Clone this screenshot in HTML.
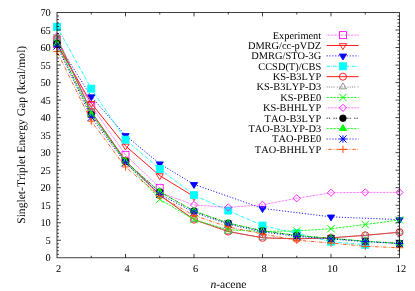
<!DOCTYPE html>
<html><head><meta charset="utf-8"><title>Singlet-Triplet Energy Gap</title>
<style>
html,body{margin:0;padding:0;background:#fff;}
body{width:415px;height:291px;overflow:hidden;position:relative;font-family:"Liberation Serif",serif;}
</style></head><body>
<svg width="415" height="291" viewBox="0 0 415 291" style="position:absolute;left:0;top:0;will-change:transform;transform:translateZ(0)">
<rect width="415" height="291" fill="#fff"/>
<g>
<path d="M326.60 35.10L358.60 35.10" fill="none" stroke="#ff00ff" stroke-width="0.9" stroke-dasharray="0.57,0.86"/>
<polyline points="57.00,43.94 91.25,105.76 125.50,154.83 159.75,187.84" fill="none" stroke="#ff00ff" stroke-width="0.9" stroke-dasharray="0.57,0.86" stroke-linejoin="round"/>
<rect x="339.45" y="31.60" width="7.00" height="7.00" fill="none" stroke="#ff00ff" stroke-width="0.85"/>
<rect x="53.50" y="40.44" width="7.00" height="7.00" fill="none" stroke="#ff00ff" stroke-width="0.85"/>
<rect x="87.75" y="102.26" width="7.00" height="7.00" fill="none" stroke="#ff00ff" stroke-width="0.85"/>
<rect x="122.00" y="151.33" width="7.00" height="7.00" fill="none" stroke="#ff00ff" stroke-width="0.85"/>
<rect x="156.25" y="184.34" width="7.00" height="7.00" fill="none" stroke="#ff00ff" stroke-width="0.85"/>
</g>
<g>
<path d="M326.60 45.49L358.60 45.49" fill="none" stroke="#ff0000" stroke-width="0.9"/>
<polyline points="57.00,43.94 91.25,103.31 125.50,145.93 159.75,175.62 194.00,196.57" fill="none" stroke="#ff0000" stroke-width="0.9" stroke-linejoin="round"/>
<polygon points="342.95,49.58 339.30,43.66 346.60,43.66" fill="none" stroke="#ff0000" stroke-width="0.85"/>
<polygon points="57.00,48.02 53.35,42.11 60.65,42.11" fill="none" stroke="#ff0000" stroke-width="0.85"/>
<polygon points="91.25,107.40 87.60,101.49 94.90,101.49" fill="none" stroke="#ff0000" stroke-width="0.85"/>
<polygon points="125.50,150.02 121.85,144.10 129.15,144.10" fill="none" stroke="#ff0000" stroke-width="0.85"/>
<polygon points="159.75,179.70 156.10,173.79 163.40,173.79" fill="none" stroke="#ff0000" stroke-width="0.85"/>
<polygon points="194.00,200.66 190.35,194.75 197.65,194.75" fill="none" stroke="#ff0000" stroke-width="0.85"/>
</g>
<g>
<path d="M326.60 55.88L358.60 55.88" fill="none" stroke="#0000ff" stroke-width="0.9" stroke-dasharray="1.15,1.72"/>
<polyline points="57.00,42.19 91.25,96.68 125.50,135.45 159.75,163.74 194.00,184.35 262.50,208.45 331.00,216.83 399.50,219.63" fill="none" stroke="#0000ff" stroke-width="0.9" stroke-dasharray="1.15,1.72" stroke-linejoin="round"/>
<polygon points="342.95,59.97 339.30,54.05 346.60,54.05" fill="#0000ff" stroke="#0000ff" stroke-width="0.85"/>
<polygon points="57.00,46.28 53.35,40.36 60.65,40.36" fill="#0000ff" stroke="#0000ff" stroke-width="0.85"/>
<polygon points="91.25,100.77 87.60,94.85 94.90,94.85" fill="#0000ff" stroke="#0000ff" stroke-width="0.85"/>
<polygon points="125.50,139.54 121.85,133.62 129.15,133.62" fill="#0000ff" stroke="#0000ff" stroke-width="0.85"/>
<polygon points="159.75,167.83 156.10,161.92 163.40,161.92" fill="#0000ff" stroke="#0000ff" stroke-width="0.85"/>
<polygon points="194.00,188.44 190.35,182.52 197.65,182.52" fill="#0000ff" stroke="#0000ff" stroke-width="0.85"/>
<polygon points="262.50,212.54 258.85,206.62 266.15,206.62" fill="#0000ff" stroke="#0000ff" stroke-width="0.85"/>
<polygon points="331.00,220.92 327.35,215.01 334.65,215.01" fill="#0000ff" stroke="#0000ff" stroke-width="0.85"/>
<polygon points="399.50,223.71 395.85,217.80 403.15,217.80" fill="#0000ff" stroke="#0000ff" stroke-width="0.85"/>
</g>
<g>
<path d="M326.60 66.27L358.60 66.27" fill="none" stroke="#00ffff" stroke-width="0.9" stroke-dasharray="3.45,1.15,0.57,1.15"/>
<polyline points="57.00,26.82 91.25,88.64 125.50,139.64 159.75,168.98 194.00,195.18 228.25,210.54 262.50,225.56 296.75,233.25 331.00,241.63 365.25,244.78" fill="none" stroke="#00ffff" stroke-width="0.9" stroke-dasharray="3.45,1.15,0.57,1.15" stroke-linejoin="round"/>
<rect x="339.45" y="62.77" width="7.00" height="7.00" fill="#00ffff" stroke="#00ffff" stroke-width="0.85"/>
<rect x="53.50" y="23.32" width="7.00" height="7.00" fill="#00ffff" stroke="#00ffff" stroke-width="0.85"/>
<rect x="87.75" y="85.14" width="7.00" height="7.00" fill="#00ffff" stroke="#00ffff" stroke-width="0.85"/>
<rect x="122.00" y="136.14" width="7.00" height="7.00" fill="#00ffff" stroke="#00ffff" stroke-width="0.85"/>
<rect x="156.25" y="165.48" width="7.00" height="7.00" fill="#00ffff" stroke="#00ffff" stroke-width="0.85"/>
<rect x="190.50" y="191.68" width="7.00" height="7.00" fill="#00ffff" stroke="#00ffff" stroke-width="0.85"/>
<rect x="224.75" y="207.04" width="7.00" height="7.00" fill="#00ffff" stroke="#00ffff" stroke-width="0.85"/>
<rect x="259.00" y="222.06" width="7.00" height="7.00" fill="#00ffff" stroke="#00ffff" stroke-width="0.85"/>
<rect x="293.25" y="229.75" width="7.00" height="7.00" fill="#00ffff" stroke="#00ffff" stroke-width="0.85"/>
<rect x="327.50" y="238.13" width="7.00" height="7.00" fill="#00ffff" stroke="#00ffff" stroke-width="0.85"/>
<rect x="361.75" y="241.28" width="7.00" height="7.00" fill="#00ffff" stroke="#00ffff" stroke-width="0.85"/>
</g>
<g>
<path d="M326.60 76.66L358.60 76.66" fill="none" stroke="#ff0000" stroke-width="0.9"/>
<polyline points="57.00,38.52 91.25,111.70 125.50,160.60 159.75,195.18 194.00,219.63 228.25,231.50 262.50,237.79 296.75,238.84 331.00,237.79 365.25,235.34 399.50,232.20" fill="none" stroke="#ff0000" stroke-width="0.9" stroke-linejoin="round"/>
<circle cx="342.95" cy="76.66" r="3.55" fill="none" stroke="#ff0000" stroke-width="0.85"/>
<circle cx="57.00" cy="38.52" r="3.55" fill="none" stroke="#ff0000" stroke-width="0.85"/>
<circle cx="91.25" cy="111.70" r="3.55" fill="none" stroke="#ff0000" stroke-width="0.85"/>
<circle cx="125.50" cy="160.60" r="3.55" fill="none" stroke="#ff0000" stroke-width="0.85"/>
<circle cx="159.75" cy="195.18" r="3.55" fill="none" stroke="#ff0000" stroke-width="0.85"/>
<circle cx="194.00" cy="219.63" r="3.55" fill="none" stroke="#ff0000" stroke-width="0.85"/>
<circle cx="228.25" cy="231.50" r="3.55" fill="none" stroke="#ff0000" stroke-width="0.85"/>
<circle cx="262.50" cy="237.79" r="3.55" fill="none" stroke="#ff0000" stroke-width="0.85"/>
<circle cx="296.75" cy="238.84" r="3.55" fill="none" stroke="#ff0000" stroke-width="0.85"/>
<circle cx="331.00" cy="237.79" r="3.55" fill="none" stroke="#ff0000" stroke-width="0.85"/>
<circle cx="365.25" cy="235.34" r="3.55" fill="none" stroke="#ff0000" stroke-width="0.85"/>
<circle cx="399.50" cy="232.20" r="3.55" fill="none" stroke="#ff0000" stroke-width="0.85"/>
</g>
<g>
<path d="M326.60 87.05L358.60 87.05" fill="none" stroke="#808080" stroke-width="0.9" stroke-dasharray="1.15,1.15,1.15,1.15,1.15,1.15,1.15,2.30"/>
<polyline points="57.00,38.52 91.25,111.70 125.50,160.60 159.75,195.18 194.00,219.63 228.25,231.50 262.50,237.79 296.75,238.84 331.00,237.79 365.25,235.34 399.50,232.20" fill="none" stroke="#808080" stroke-width="0.9" stroke-dasharray="1.15,1.15,1.15,1.15,1.15,1.15,1.15,2.30" stroke-linejoin="round"/>
<polygon points="342.95,82.96 339.30,88.88 346.60,88.88" fill="none" stroke="#808080" stroke-width="0.85"/>
<polygon points="57.00,34.43 53.35,40.35 60.65,40.35" fill="none" stroke="#808080" stroke-width="0.85"/>
<polygon points="91.25,107.61 87.60,113.52 94.90,113.52" fill="none" stroke="#808080" stroke-width="0.85"/>
<polygon points="125.50,156.51 121.85,162.42 129.15,162.42" fill="none" stroke="#808080" stroke-width="0.85"/>
<polygon points="159.75,191.09 156.10,197.00 163.40,197.00" fill="none" stroke="#808080" stroke-width="0.85"/>
<polygon points="194.00,215.54 190.35,221.45 197.65,221.45" fill="none" stroke="#808080" stroke-width="0.85"/>
<polygon points="228.25,227.41 224.60,233.33 231.90,233.33" fill="none" stroke="#808080" stroke-width="0.85"/>
<polygon points="262.50,233.70 258.85,239.61 266.15,239.61" fill="none" stroke="#808080" stroke-width="0.85"/>
<polygon points="296.75,234.75 293.10,240.66 300.40,240.66" fill="none" stroke="#808080" stroke-width="0.85"/>
<polygon points="331.00,233.70 327.35,239.61 334.65,239.61" fill="none" stroke="#808080" stroke-width="0.85"/>
<polygon points="365.25,231.26 361.60,237.17 368.90,237.17" fill="none" stroke="#808080" stroke-width="0.85"/>
<polygon points="399.50,228.11 395.85,234.03 403.15,234.03" fill="none" stroke="#808080" stroke-width="0.85"/>
</g>
<g>
<path d="M326.60 97.44L358.60 97.44" fill="none" stroke="#00ff00" stroke-width="0.9" stroke-dasharray="2.30,1.15"/>
<polyline points="57.00,37.65 91.25,112.05 125.50,161.99 159.75,199.19 194.00,219.63 228.25,229.76 262.50,231.50 296.75,230.91 331.00,228.71 365.25,224.52 399.50,219.98" fill="none" stroke="#00ff00" stroke-width="0.9" stroke-dasharray="2.30,1.15" stroke-linejoin="round"/>
<path d="M339.30 93.79L346.60 101.09M339.30 101.09L346.60 93.79" fill="none" stroke="#00ff00" stroke-width="1.0"/>
<path d="M53.35 34.00L60.65 41.30M53.35 41.30L60.65 34.00" fill="none" stroke="#00ff00" stroke-width="1.0"/>
<path d="M87.60 108.40L94.90 115.70M87.60 115.70L94.90 108.40" fill="none" stroke="#00ff00" stroke-width="1.0"/>
<path d="M121.85 158.34L129.15 165.64M121.85 165.64L129.15 158.34" fill="none" stroke="#00ff00" stroke-width="1.0"/>
<path d="M156.10 195.54L163.40 202.84M156.10 202.84L163.40 195.54" fill="none" stroke="#00ff00" stroke-width="1.0"/>
<path d="M190.35 215.98L197.65 223.28M190.35 223.28L197.65 215.98" fill="none" stroke="#00ff00" stroke-width="1.0"/>
<path d="M224.60 226.11L231.90 233.41M224.60 233.41L231.90 226.11" fill="none" stroke="#00ff00" stroke-width="1.0"/>
<path d="M258.85 227.85L266.15 235.15M258.85 235.15L266.15 227.85" fill="none" stroke="#00ff00" stroke-width="1.0"/>
<path d="M293.10 227.26L300.40 234.56M293.10 234.56L300.40 227.26" fill="none" stroke="#00ff00" stroke-width="1.0"/>
<path d="M327.35 225.06L334.65 232.36M327.35 232.36L334.65 225.06" fill="none" stroke="#00ff00" stroke-width="1.0"/>
<path d="M361.60 220.87L368.90 228.17M361.60 228.17L368.90 220.87" fill="none" stroke="#00ff00" stroke-width="1.0"/>
<path d="M395.85 216.33L403.15 223.63M395.85 223.63L403.15 216.33" fill="none" stroke="#00ff00" stroke-width="1.0"/>
</g>
<g>
<path d="M326.60 107.83L358.60 107.83" fill="none" stroke="#ff00ff" stroke-width="0.9" stroke-dasharray="0.57,0.86"/>
<polyline points="57.00,36.25 91.25,112.75 125.50,161.30 159.75,192.38 194.00,204.96 228.25,207.40 262.50,204.78 296.75,198.32 331.00,192.73 365.25,192.38 399.50,192.38" fill="none" stroke="#ff00ff" stroke-width="0.9" stroke-dasharray="0.57,0.86" stroke-linejoin="round"/>
<polygon points="342.95,104.23 339.35,107.83 342.95,111.43 346.55,107.83" fill="none" stroke="#ff00ff" stroke-width="0.85"/>
<polygon points="57.00,32.65 53.40,36.25 57.00,39.85 60.60,36.25" fill="none" stroke="#ff00ff" stroke-width="0.85"/>
<polygon points="91.25,109.15 87.65,112.75 91.25,116.35 94.85,112.75" fill="none" stroke="#ff00ff" stroke-width="0.85"/>
<polygon points="125.50,157.70 121.90,161.30 125.50,164.90 129.10,161.30" fill="none" stroke="#ff00ff" stroke-width="0.85"/>
<polygon points="159.75,188.78 156.15,192.38 159.75,195.98 163.35,192.38" fill="none" stroke="#ff00ff" stroke-width="0.85"/>
<polygon points="194.00,201.36 190.40,204.96 194.00,208.56 197.60,204.96" fill="none" stroke="#ff00ff" stroke-width="0.85"/>
<polygon points="228.25,203.80 224.65,207.40 228.25,211.00 231.85,207.40" fill="none" stroke="#ff00ff" stroke-width="0.85"/>
<polygon points="262.50,201.18 258.90,204.78 262.50,208.38 266.10,204.78" fill="none" stroke="#ff00ff" stroke-width="0.85"/>
<polygon points="296.75,194.72 293.15,198.32 296.75,201.92 300.35,198.32" fill="none" stroke="#ff00ff" stroke-width="0.85"/>
<polygon points="331.00,189.13 327.40,192.73 331.00,196.33 334.60,192.73" fill="none" stroke="#ff00ff" stroke-width="0.85"/>
<polygon points="365.25,188.78 361.65,192.38 365.25,195.98 368.85,192.38" fill="none" stroke="#ff00ff" stroke-width="0.85"/>
<polygon points="399.50,188.78 395.90,192.38 399.50,195.98 403.10,192.38" fill="none" stroke="#ff00ff" stroke-width="0.85"/>
</g>
<g>
<path d="M326.60 118.22L358.60 118.22" fill="none" stroke="#000000" stroke-width="0.9" stroke-dasharray="1.15,1.15,1.15,3.45"/>
<polyline points="57.00,43.94 91.25,114.49 125.50,161.47 159.75,191.86 194.00,211.07 228.25,223.12 262.50,230.80 296.75,235.52 331.00,238.31 365.25,241.28 399.50,243.38" fill="none" stroke="#000000" stroke-width="0.9" stroke-dasharray="1.15,1.15,1.15,3.45" stroke-linejoin="round"/>
<circle cx="342.95" cy="118.22" r="3.30" fill="#000000" stroke="#000000" stroke-width="0.85"/>
<circle cx="57.00" cy="43.94" r="3.30" fill="#000000" stroke="#000000" stroke-width="0.85"/>
<circle cx="91.25" cy="114.49" r="3.30" fill="#000000" stroke="#000000" stroke-width="0.85"/>
<circle cx="125.50" cy="161.47" r="3.30" fill="#000000" stroke="#000000" stroke-width="0.85"/>
<circle cx="159.75" cy="191.86" r="3.30" fill="#000000" stroke="#000000" stroke-width="0.85"/>
<circle cx="194.00" cy="211.07" r="3.30" fill="#000000" stroke="#000000" stroke-width="0.85"/>
<circle cx="228.25" cy="223.12" r="3.30" fill="#000000" stroke="#000000" stroke-width="0.85"/>
<circle cx="262.50" cy="230.80" r="3.30" fill="#000000" stroke="#000000" stroke-width="0.85"/>
<circle cx="296.75" cy="235.52" r="3.30" fill="#000000" stroke="#000000" stroke-width="0.85"/>
<circle cx="331.00" cy="238.31" r="3.30" fill="#000000" stroke="#000000" stroke-width="0.85"/>
<circle cx="365.25" cy="241.28" r="3.30" fill="#000000" stroke="#000000" stroke-width="0.85"/>
<circle cx="399.50" cy="243.38" r="3.30" fill="#000000" stroke="#000000" stroke-width="0.85"/>
</g>
<g>
<path d="M326.60 128.61L358.60 128.61" fill="none" stroke="#00ff00" stroke-width="0.9" stroke-dasharray="2.30,1.15"/>
<polyline points="57.00,43.94 91.25,114.49 125.50,161.47 159.75,191.86 194.00,211.07 228.25,223.12 262.50,230.80 296.75,235.52 331.00,238.31 365.25,241.28 399.50,243.38" fill="none" stroke="#00ff00" stroke-width="0.9" stroke-dasharray="2.30,1.15" stroke-linejoin="round"/>
<polygon points="342.95,124.52 339.30,130.44 346.60,130.44" fill="#00ff00" stroke="#00ff00" stroke-width="0.85"/>
<polygon points="57.00,39.85 53.35,45.76 60.65,45.76" fill="#00ff00" stroke="#00ff00" stroke-width="0.85"/>
<polygon points="91.25,110.40 87.60,116.32 94.90,116.32" fill="#00ff00" stroke="#00ff00" stroke-width="0.85"/>
<polygon points="125.50,157.38 121.85,163.30 129.15,163.30" fill="#00ff00" stroke="#00ff00" stroke-width="0.85"/>
<polygon points="159.75,187.77 156.10,193.68 163.40,193.68" fill="#00ff00" stroke="#00ff00" stroke-width="0.85"/>
<polygon points="194.00,206.98 190.35,212.89 197.65,212.89" fill="#00ff00" stroke="#00ff00" stroke-width="0.85"/>
<polygon points="228.25,219.03 224.60,224.94 231.90,224.94" fill="#00ff00" stroke="#00ff00" stroke-width="0.85"/>
<polygon points="262.50,226.72 258.85,232.63 266.15,232.63" fill="#00ff00" stroke="#00ff00" stroke-width="0.85"/>
<polygon points="296.75,231.43 293.10,237.34 300.40,237.34" fill="#00ff00" stroke="#00ff00" stroke-width="0.85"/>
<polygon points="331.00,234.23 327.35,240.14 334.65,240.14" fill="#00ff00" stroke="#00ff00" stroke-width="0.85"/>
<polygon points="365.25,237.19 361.60,243.11 368.90,243.11" fill="#00ff00" stroke="#00ff00" stroke-width="0.85"/>
<polygon points="399.50,239.29 395.85,245.20 403.15,245.20" fill="#00ff00" stroke="#00ff00" stroke-width="0.85"/>
</g>
<g>
<path d="M326.60 139.00L358.60 139.00" fill="none" stroke="#0000ff" stroke-width="0.9" stroke-dasharray="1.15,1.72"/>
<polyline points="57.00,46.03 91.25,117.29 125.50,162.87 159.75,194.30 194.00,212.29 228.25,224.17 262.50,231.85 296.75,236.39 331.00,239.01 365.25,241.63 399.50,243.55" fill="none" stroke="#0000ff" stroke-width="0.9" stroke-dasharray="1.15,1.72" stroke-linejoin="round"/>
<path d="M339.30 135.35L346.60 142.65M339.30 142.65L346.60 135.35M339.30 139.00L346.60 139.00M342.95 135.35L342.95 142.65" fill="none" stroke="#0000ff" stroke-width="1.0"/>
<path d="M53.35 42.38L60.65 49.68M53.35 49.68L60.65 42.38M53.35 46.03L60.65 46.03M57.00 42.38L57.00 49.68" fill="none" stroke="#0000ff" stroke-width="1.0"/>
<path d="M87.60 113.64L94.90 120.94M87.60 120.94L94.90 113.64M87.60 117.29L94.90 117.29M91.25 113.64L91.25 120.94" fill="none" stroke="#0000ff" stroke-width="1.0"/>
<path d="M121.85 159.22L129.15 166.52M121.85 166.52L129.15 159.22M121.85 162.87L129.15 162.87M125.50 159.22L125.50 166.52" fill="none" stroke="#0000ff" stroke-width="1.0"/>
<path d="M156.10 190.65L163.40 197.95M156.10 197.95L163.40 190.65M156.10 194.30L163.40 194.30M159.75 190.65L159.75 197.95" fill="none" stroke="#0000ff" stroke-width="1.0"/>
<path d="M190.35 208.64L197.65 215.94M190.35 215.94L197.65 208.64M190.35 212.29L197.65 212.29M194.00 208.64L194.00 215.94" fill="none" stroke="#0000ff" stroke-width="1.0"/>
<path d="M224.60 220.52L231.90 227.82M224.60 227.82L231.90 220.52M224.60 224.17L231.90 224.17M228.25 220.52L228.25 227.82" fill="none" stroke="#0000ff" stroke-width="1.0"/>
<path d="M258.85 228.20L266.15 235.50M258.85 235.50L266.15 228.20M258.85 231.85L266.15 231.85M262.50 228.20L262.50 235.50" fill="none" stroke="#0000ff" stroke-width="1.0"/>
<path d="M293.10 232.74L300.40 240.04M293.10 240.04L300.40 232.74M293.10 236.39L300.40 236.39M296.75 232.74L296.75 240.04" fill="none" stroke="#0000ff" stroke-width="1.0"/>
<path d="M327.35 235.36L334.65 242.66M327.35 242.66L334.65 235.36M327.35 239.01L334.65 239.01M331.00 235.36L331.00 242.66" fill="none" stroke="#0000ff" stroke-width="1.0"/>
<path d="M361.60 237.98L368.90 245.28M361.60 245.28L368.90 237.98M361.60 241.63L368.90 241.63M365.25 237.98L365.25 245.28" fill="none" stroke="#0000ff" stroke-width="1.0"/>
<path d="M395.85 239.90L403.15 247.20M395.85 247.20L403.15 239.90M395.85 243.55L403.15 243.55M399.50 239.90L399.50 247.20" fill="none" stroke="#0000ff" stroke-width="1.0"/>
</g>
<g>
<path d="M326.60 149.39L358.60 149.39" fill="none" stroke="#ff4d00" stroke-width="0.9" stroke-dasharray="0.57,1.15,3.45,1.15,0.57,1.15"/>
<polyline points="57.00,51.45 91.25,121.13 125.50,166.88 159.75,196.22 194.00,215.44 228.25,226.96 262.50,233.95 296.75,240.23 331.00,243.03 365.25,246.35 399.50,247.74" fill="none" stroke="#ff4d00" stroke-width="0.9" stroke-dasharray="0.57,1.15,3.45,1.15,0.57,1.15" stroke-linejoin="round"/>
<path d="M339.30 149.39L346.60 149.39M342.95 145.74L342.95 153.04" fill="none" stroke="#ff4d00" stroke-width="1.0"/>
<path d="M53.35 51.45L60.65 51.45M57.00 47.80L57.00 55.10" fill="none" stroke="#ff4d00" stroke-width="1.0"/>
<path d="M87.60 121.13L94.90 121.13M91.25 117.48L91.25 124.78" fill="none" stroke="#ff4d00" stroke-width="1.0"/>
<path d="M121.85 166.88L129.15 166.88M125.50 163.23L125.50 170.53" fill="none" stroke="#ff4d00" stroke-width="1.0"/>
<path d="M156.10 196.22L163.40 196.22M159.75 192.57L159.75 199.87" fill="none" stroke="#ff4d00" stroke-width="1.0"/>
<path d="M190.35 215.44L197.65 215.44M194.00 211.78L194.00 219.09" fill="none" stroke="#ff4d00" stroke-width="1.0"/>
<path d="M224.60 226.96L231.90 226.96M228.25 223.31L228.25 230.61" fill="none" stroke="#ff4d00" stroke-width="1.0"/>
<path d="M258.85 233.95L266.15 233.95M262.50 230.30L262.50 237.60" fill="none" stroke="#ff4d00" stroke-width="1.0"/>
<path d="M293.10 240.23L300.40 240.23M296.75 236.58L296.75 243.88" fill="none" stroke="#ff4d00" stroke-width="1.0"/>
<path d="M327.35 243.03L334.65 243.03M331.00 239.38L331.00 246.68" fill="none" stroke="#ff4d00" stroke-width="1.0"/>
<path d="M361.60 246.35L368.90 246.35M365.25 242.70L365.25 250.00" fill="none" stroke="#ff4d00" stroke-width="1.0"/>
<path d="M395.85 247.74L403.15 247.74M399.50 244.09L399.50 251.39" fill="none" stroke="#ff4d00" stroke-width="1.0"/>
</g>
<path d="M57.00 254.30h2.00M399.50 254.30h-2.00M57.00 250.79h2.00M399.50 250.79h-2.00M57.00 247.29h2.00M399.50 247.29h-2.00M57.00 243.78h2.00M399.50 243.78h-2.00M57.00 240.28h3.90M399.50 240.28h-3.90M57.00 236.77h2.00M399.50 236.77h-2.00M57.00 233.27h2.00M399.50 233.27h-2.00M57.00 229.77h2.00M399.50 229.77h-2.00M57.00 226.26h2.00M399.50 226.26h-2.00M57.00 222.76h3.90M399.50 222.76h-3.90M57.00 219.25h2.00M399.50 219.25h-2.00M57.00 215.75h2.00M399.50 215.75h-2.00M57.00 212.24h2.00M399.50 212.24h-2.00M57.00 208.74h2.00M399.50 208.74h-2.00M57.00 205.24h3.90M399.50 205.24h-3.90M57.00 201.73h2.00M399.50 201.73h-2.00M57.00 198.23h2.00M399.50 198.23h-2.00M57.00 194.72h2.00M399.50 194.72h-2.00M57.00 191.22h2.00M399.50 191.22h-2.00M57.00 187.71h3.90M399.50 187.71h-3.90M57.00 184.21h2.00M399.50 184.21h-2.00M57.00 180.71h2.00M399.50 180.71h-2.00M57.00 177.20h2.00M399.50 177.20h-2.00M57.00 173.70h2.00M399.50 173.70h-2.00M57.00 170.19h3.90M399.50 170.19h-3.90M57.00 166.69h2.00M399.50 166.69h-2.00M57.00 163.18h2.00M399.50 163.18h-2.00M57.00 159.68h2.00M399.50 159.68h-2.00M57.00 156.18h2.00M399.50 156.18h-2.00M57.00 152.67h3.90M399.50 152.67h-3.90M57.00 149.17h2.00M399.50 149.17h-2.00M57.00 145.66h2.00M399.50 145.66h-2.00M57.00 142.16h2.00M399.50 142.16h-2.00M57.00 138.65h2.00M399.50 138.65h-2.00M57.00 135.15h3.90M399.50 135.15h-3.90M57.00 131.65h2.00M399.50 131.65h-2.00M57.00 128.14h2.00M399.50 128.14h-2.00M57.00 124.64h2.00M399.50 124.64h-2.00M57.00 121.13h2.00M399.50 121.13h-2.00M57.00 117.63h3.90M399.50 117.63h-3.90M57.00 114.12h2.00M399.50 114.12h-2.00M57.00 110.62h2.00M399.50 110.62h-2.00M57.00 107.12h2.00M399.50 107.12h-2.00M57.00 103.61h2.00M399.50 103.61h-2.00M57.00 100.11h3.90M399.50 100.11h-3.90M57.00 96.60h2.00M399.50 96.60h-2.00M57.00 93.10h2.00M399.50 93.10h-2.00M57.00 89.59h2.00M399.50 89.59h-2.00M57.00 86.09h2.00M399.50 86.09h-2.00M57.00 82.59h3.90M399.50 82.59h-3.90M57.00 79.08h2.00M399.50 79.08h-2.00M57.00 75.58h2.00M399.50 75.58h-2.00M57.00 72.07h2.00M399.50 72.07h-2.00M57.00 68.57h2.00M399.50 68.57h-2.00M57.00 65.06h3.90M399.50 65.06h-3.90M57.00 61.56h2.00M399.50 61.56h-2.00M57.00 58.06h2.00M399.50 58.06h-2.00M57.00 54.55h2.00M399.50 54.55h-2.00M57.00 51.05h2.00M399.50 51.05h-2.00M57.00 47.54h3.90M399.50 47.54h-3.90M57.00 44.04h2.00M399.50 44.04h-2.00M57.00 40.53h2.00M399.50 40.53h-2.00M57.00 37.03h2.00M399.50 37.03h-2.00M57.00 33.53h2.00M399.50 33.53h-2.00M57.00 30.02h3.90M399.50 30.02h-3.90M57.00 26.52h2.00M399.50 26.52h-2.00M57.00 23.01h2.00M399.50 23.01h-2.00M57.00 19.51h2.00M399.50 19.51h-2.00M57.00 16.00h2.00M399.50 16.00h-2.00M91.25 257.80v-2.00M91.25 12.50v2.00M125.50 257.80v-3.90M125.50 12.50v3.90M159.75 257.80v-2.00M159.75 12.50v2.00M194.00 257.80v-3.90M194.00 12.50v3.90M228.25 257.80v-2.00M228.25 12.50v2.00M262.50 257.80v-3.90M262.50 12.50v3.90M296.75 257.80v-2.00M296.75 12.50v2.00M331.00 257.80v-3.90M331.00 12.50v3.90M365.25 257.80v-2.00M365.25 12.50v2.00" fill="none" stroke="#000" stroke-width="0.75"/>
<rect x="57.00" y="12.50" width="342.50" height="245.30" fill="none" stroke="#000" stroke-width="0.75"/>
<g font-family="'Liberation Serif', serif" fill="#000" style="font-kerning:none;text-rendering:geometricPrecision">
<g font-size="10.4px">
<text x="50.8" y="261.45" text-anchor="end">0</text>
<text x="50.8" y="243.93" text-anchor="end">5</text>
<text x="50.8" y="226.41" text-anchor="end">10</text>
<text x="50.8" y="208.89" text-anchor="end">15</text>
<text x="50.8" y="191.36" text-anchor="end">20</text>
<text x="50.8" y="173.84" text-anchor="end">25</text>
<text x="50.8" y="156.32" text-anchor="end">30</text>
<text x="50.8" y="138.80" text-anchor="end">35</text>
<text x="50.8" y="121.28" text-anchor="end">40</text>
<text x="50.8" y="103.76" text-anchor="end">45</text>
<text x="50.8" y="86.24" text-anchor="end">50</text>
<text x="50.8" y="68.71" text-anchor="end">55</text>
<text x="50.8" y="51.19" text-anchor="end">60</text>
<text x="50.8" y="33.67" text-anchor="end">65</text>
<text x="50.8" y="16.15" text-anchor="end">70</text>
<text x="58.50" y="271.6" text-anchor="middle">2</text>
<text x="127.00" y="271.6" text-anchor="middle">4</text>
<text x="195.50" y="271.6" text-anchor="middle">6</text>
<text x="264.00" y="271.6" text-anchor="middle">8</text>
<text x="332.50" y="271.6" text-anchor="middle">10</text>
<text x="401.00" y="271.6" text-anchor="middle">12</text>
</g>
<g font-size="11.6px">
<text x="228.4" y="287.6" text-anchor="middle"><tspan font-style="italic">n</tspan>-acene</text>
<text transform="translate(24.7,134.8) rotate(-90)" text-anchor="middle">Singlet-Triplet Energy Gap (kcal/mol)</text>
</g>
<g font-size="10.4px">
<text x="321.2" y="38.50" text-anchor="end">Experiment</text>
<text x="321.2" y="48.89" text-anchor="end">DMRG/cc-pVDZ</text>
<text x="321.2" y="59.28" text-anchor="end">DMRG/STO-3G</text>
<text x="321.2" y="69.67" text-anchor="end">CCSD(T)/CBS</text>
<text x="321.2" y="80.06" text-anchor="end">KS-B3LYP</text>
<text x="321.2" y="90.45" text-anchor="end">KS-B3LYP-D3</text>
<text x="321.2" y="100.84" text-anchor="end">KS-PBE0</text>
<text x="321.2" y="111.23" text-anchor="end">KS-BHHLYP</text>
<text x="321.2" y="121.62" text-anchor="end">TAO-B3LYP</text>
<text x="321.2" y="132.01" text-anchor="end">TAO-B3LYP-D3</text>
<text x="321.2" y="142.40" text-anchor="end">TAO-PBE0</text>
<text x="321.2" y="152.79" text-anchor="end">TAO-BHHLYP</text>
</g>
</g>
</svg>
</body></html>
